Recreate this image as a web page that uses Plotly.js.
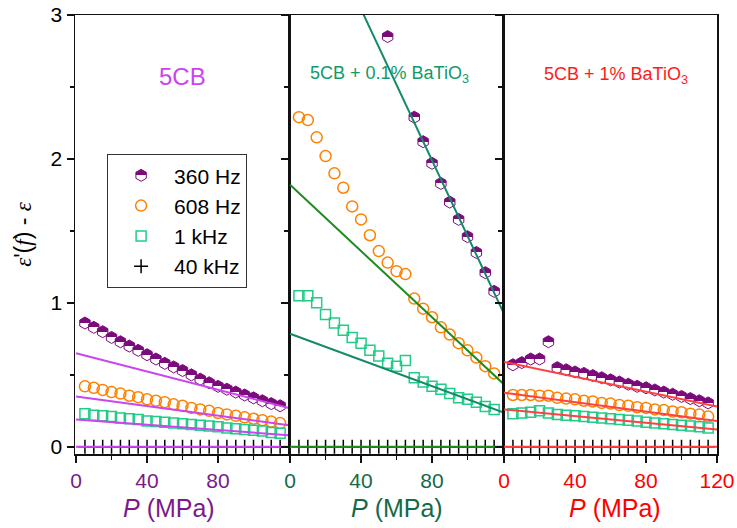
<!DOCTYPE html>
<html>
<head>
<meta charset="utf-8">
<script src="https://cdn.plot.ly/plotly-3.0.1.min.js"></script>
<style>html,body{margin:0;padding:0;background:#fff;}#chart{width:737px;height:528px;}</style>
</head>
<body>
<div id="chart"></div>
<script>
// ---------- data ----------
const pressure = [5,10,15,20,25,30,35,40,45,50,55,60,65,70,75,80,85,90,95,100,105,110,115];
const legendNames = ['360 Hz','608 Hz','1 kHz','40 kHz'];
const panelTitles = ['5CB','5CB + 0.1% BaTiO<sub>3</sub>','5CB + 1% BaTiO<sub>3</sub>'];
const xTitle = '<i>P</i> (MPa)';
const xTicks12 = [0,40,80];
const xTicks3 = [0,40,80,120];
const yTicks = [0,1,2,3];

// Panel 1: 5CB
const p1_360 = [0.86,0.83,0.80,0.76,0.73,0.70,0.67,0.64,0.61,0.58,0.555,0.53,0.50,0.47,0.445,0.42,0.40,0.38,0.36,0.34,0.32,0.30,0.285];
const p1_608 = [0.42,0.41,0.395,0.38,0.37,0.355,0.345,0.33,0.32,0.31,0.295,0.285,0.27,0.26,0.25,0.235,0.225,0.215,0.205,0.195,0.185,0.175,0.165];
const p1_1k  = [0.23,0.22,0.215,0.21,0.20,0.195,0.19,0.18,0.175,0.17,0.165,0.16,0.155,0.15,0.145,0.14,0.13,0.125,0.12,0.115,0.11,0.10,0.095];
const p1_40k = [0,0,0,0,0,0,0,0,0,0,0,0,0,0,0,0,0,0,0,0,0,0,0];
const fitX = [0,120];
const p1_fit360 = [0.65,0.27];
const p1_fit608 = [0.35,0.15];
const p1_fit1k  = [0.19,0.08];
const p1_fit40k = [0,0];

// Panel 2: 5CB + 0.1% BaTiO3
const p2_360x = [55,70,75,80,85,90,95,100,105,110,115];
const p2_360 = [2.85,2.29,2.12,1.97,1.83,1.70,1.58,1.46,1.35,1.21,1.08];
const p2_608 = [2.29,2.27,2.15,2.02,1.90,1.80,1.67,1.58,1.47,1.36,1.28,1.22,1.20,1.03,0.96,0.90,0.83,0.78,0.72,0.67,0.62,0.56,0.51];
const p2_1k  = [1.05,1.05,1.00,0.92,0.86,0.81,0.76,0.72,0.67,0.63,0.58,0.56,0.60,0.48,0.45,0.42,0.40,0.37,0.34,0.33,0.31,0.28,0.26];
const p2_40k = [0,0,0,0,0,0,0,0,0,0,0,0,0,0,0,0,0,0,0,0,0,0,0];
const p2_fit360 = [4.09,0.94];
const p2_fit608 = [1.82,0.44];
const p2_fit1k  = [0.785,0.24];
const p2_fit40k = [0,0];

// Panel 3: 5CB + 1% BaTiO3
const p3_360 = [0.57,0.585,0.61,0.61,0.73,0.55,0.535,0.52,0.51,0.495,0.48,0.465,0.45,0.435,0.42,0.41,0.395,0.38,0.365,0.35,0.335,0.32,0.305];
const p3_608 = [0.36,0.36,0.36,0.355,0.355,0.34,0.335,0.33,0.32,0.315,0.305,0.30,0.29,0.285,0.275,0.27,0.26,0.255,0.245,0.24,0.23,0.225,0.21];
const p3_1k  = [0.23,0.235,0.24,0.25,0.235,0.225,0.22,0.215,0.21,0.205,0.20,0.195,0.19,0.185,0.18,0.17,0.165,0.16,0.155,0.15,0.145,0.14,0.13];
const p3_40k = [0,0,0,0,0,0,0,0,0,0,0,0,0,0,0,0,0,0,0,0,0,0,0];
const p3_fit360 = [0.59,0.28];
const p3_fit608 = [0.375,0.18];
const p3_fit1k  = [0.26,0.12];
const p3_fit40k = [0,0];

// ---------- styles ----------
const PURPLE = '#7b0a7b', ORANGE = '#ff8000', MINT = '#22cc88', BLACK = '#000000';
const C1 = '#cc44ee', C2a = '#138a6a', C2b = '#1e8c1e', C3 = '#ff4040';
const tickCol = ['#7a1a8a','#146a4a','#ff0000'];
const FONT = 'Arial, "Liberation Sans", sans-serif';

function markers(xa, ya, x, y, kind, show) {
  const base = {type:'scatter', mode:'markers', x:x, y:y, xaxis:xa, yaxis:ya, showlegend:show,
    name: legendNames[kind], legendgroup:'g'+kind, cliponaxis:true};
  if (kind === 0) base.marker = {symbol:'hexagon', size:12, color:PURPLE, line:{color:PURPLE, width:1}};
  if (kind === 1) base.marker = {symbol:'circle-open', size:11, color:ORANGE, line:{color:ORANGE, width:1.5}};
  if (kind === 2) base.marker = {symbol:'square-open', size:10, color:MINT, line:{color:MINT, width:1.5}};
  if (kind === 3) base.marker = {symbol:'cross-thin', size:10, color:BLACK, line:{color:BLACK, width:1.5}};
  return base;
}
function fit(xa, ya, y, col) {
  return {type:'scatter', mode:'lines', x:fitX, y:y, xaxis:xa, yaxis:ya, showlegend:false,
    line:{color:col, width:2}, hoverinfo:'skip'};
}

const data = [
  markers('x','y',pressure,p1_360,0,true),
  markers('x','y',pressure,p1_608,1,true),
  markers('x','y',pressure,p1_1k,2,true),
  markers('x','y',pressure,p1_40k,3,true),
  markers('x2','y2',p2_360x,p2_360,0,false),
  markers('x2','y2',pressure,p2_608,1,false),
  markers('x2','y2',pressure,p2_1k,2,false),
  markers('x2','y2',pressure,p2_40k,3,false),
  markers('x3','y3',pressure,p3_360,0,false),
  markers('x3','y3',pressure,p3_608,1,false),
  markers('x3','y3',pressure,p3_1k,2,false),
  markers('x3','y3',pressure,p3_40k,3,false),
  fit('x','y',p1_fit360,C1), fit('x','y',p1_fit608,C1), fit('x','y',p1_fit1k,C1), fit('x','y',p1_fit40k,C1),
  fit('x2','y2',p2_fit360,C2a), fit('x2','y2',p2_fit608,C2b), fit('x2','y2',p2_fit1k,C2a), fit('x2','y2',p2_fit40k,C2b),
  fit('x3','y3',p3_fit360,C3), fit('x3','y3',p3_fit608,C3), fit('x3','y3',p3_fit1k,C3), fit('x3','y3',p3_fit40k,C3)
];

const LINE = '#111111';
function xaxis(i, dom, anchor, tv) {
  return {domain:dom, anchor:anchor, range:[-0.6,120], showline:true, mirror:true, linecolor:LINE, linewidth:1.5,
    ticks:'outside', ticklen:7, tickwidth:1.5, tickcolor:LINE, tickvals:tv, ticktext:tv.map(String),
    minor:{tickvals:[20,60,100], ticks:'outside', ticklen:4, tickwidth:1.5, tickcolor:LINE},
    showgrid:false, zeroline:false, fixedrange:true,
    tickfont:{family:FONT, size:21, color:tickCol[i]}};
}
function yaxis(anchor, labels) {
  const a = {anchor:anchor, range:[-0.05,3], showline:true, mirror:true, linecolor:LINE, linewidth:1.5,
    ticks:'outside', ticklen:7, tickwidth:1.5, tickcolor:LINE, tickvals:yTicks, ticktext:yTicks.map(String),
    minor:{tickvals:[0.5,1.5,2.5], ticks:'outside', ticklen:4, tickwidth:1.5, tickcolor:LINE},
    showgrid:false, zeroline:false, fixedrange:true, showticklabels:labels,
    tickfont:{family:FONT, size:21, color:'#000'}};
  if (labels) {
    a.title = {text:'<span style="font-family:\'Liberation Serif\',serif"><i>ε</i></span>\'(<span style="font-family:\'Liberation Serif\',serif"><i>f</i></span>) - <span style="font-family:\'Liberation Serif\',serif"><i>ε</i></span>',
      standoff:12, font:{family:FONT, size:23, color:'#000'}};
  }
  return a;
}

const xTitlePos = [0.1464, 0.5016, 0.841];
const layout = {
  width:737, height:528,
  margin:{l:75, r:20, t:15, b:74},
  paper_bgcolor:'#fff', plot_bgcolor:'#fff',
  font:{family:FONT, color:'#000'},
  xaxis: xaxis(0,[0,1/3],'y',xTicks12),
  xaxis2: xaxis(1,[1/3,2/3],'y2',xTicks12),
  xaxis3: xaxis(2,[2/3,1],'y3',xTicks3),
  yaxis: yaxis('x', true),
  yaxis2: yaxis('x2', false),
  yaxis3: yaxis('x3', false),
  showlegend:true,
  legend:{x:0.05, y:0.683, xanchor:'left', yanchor:'top', bgcolor:'#fff', bordercolor:'#333', borderwidth:1,
    font:{family:FONT, size:21, color:'#000'}, itemwidth:56, tracegroupgap:0},
  annotations:[
    {xref:'x', yref:'y', x:60, y:2.57, text:panelTitles[0], showarrow:false, font:{family:FONT, size:24, color:C1}},
    {xref:'x2', yref:'y2', x:56, y:2.59, text:panelTitles[1], showarrow:false, font:{family:FONT, size:18, color:'#109a6a'}},
    {xref:'x3', yref:'y3', x:63, y:2.58, text:panelTitles[2], showarrow:false, font:{family:FONT, size:18, color:'#ff1a1a'}}
  ].concat(xTitlePos.map(function(px, i){
    return {xref:'paper', yref:'paper', x:px, y:-0.123, xanchor:'center', yanchor:'middle', text:xTitle,
      showarrow:false, font:{family:FONT, size:25, color:tickCol[i]}};
  }))
};

Plotly.newPlot('chart', data, layout, {staticPlot:true, displayModeBar:false}).then(function(gd){
  // half-filled hexagon: top half purple, bottom half white
  const svg = gd.querySelector('svg.main-svg');
  const ns = 'http://www.w3.org/2000/svg';
  let defs = svg.querySelector('defs');
  if (!defs) { defs = document.createElementNS(ns,'defs'); svg.insertBefore(defs, svg.firstChild); }
  const lg = document.createElementNS(ns,'linearGradient');
  lg.setAttribute('id','halfhex'); lg.setAttribute('x1','0'); lg.setAttribute('y1','0');
  lg.setAttribute('x2','0'); lg.setAttribute('y2','1');
  [['0',PURPLE],['0.5',PURPLE],['0.5','#ffffff'],['1','#ffffff']].forEach(function(s){
    const st = document.createElementNS(ns,'stop'); st.setAttribute('offset',s[0]); st.setAttribute('stop-color',s[1]); lg.appendChild(st);
  });
  defs.appendChild(lg);
  gd.querySelectorAll('path.point, path.scatterpts').forEach(function(p){
    if (p.style.fill === 'rgb(123, 10, 123)') p.style.fill = 'url(#halfhex)';
  });
});
</script>
</body>
</html>
